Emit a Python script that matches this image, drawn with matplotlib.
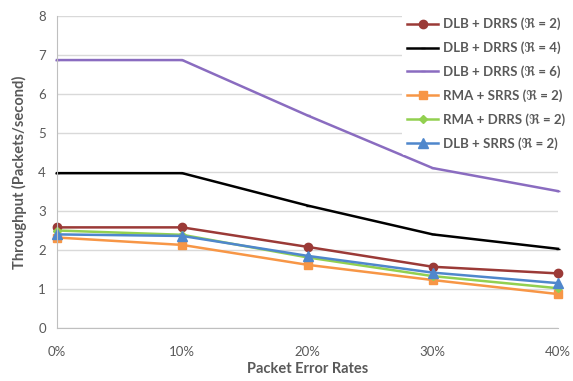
import matplotlib.pyplot as plt

error_rates = ['0%', '10%', '20%', '30%', '40%']

series_names = [
    'DLB + DRRS (\u211c = 2)',
    'DLB + DRRS (\u211c = 4)',
    'DLB + DRRS (\u211c = 6)',
    'RMA + SRRS (\u211c = 2)',
    'RMA + DRRS (\u211c = 2)',
    'DLB + SRRS (\u211c = 2)',
]

dlb_drrs_2 = [2.58, 2.58, 2.08, 1.57, 1.40]
dlb_drrs_4 = [3.97, 3.97, 3.14, 2.40, 2.03]
dlb_drrs_6 = [6.87, 6.87, 5.45, 4.10, 3.51]
rma_srrs_2 = [2.32, 2.13, 1.62, 1.23, 0.87]
rma_drrs_2 = [2.50, 2.39, 1.81, 1.33, 1.02]
dlb_srrs_2 = [2.40, 2.36, 1.85, 1.42, 1.15]

plt.rcParams['font.family'] = ['Lato', 'DejaVu Sans']
grey = '#595959'

fig = plt.figure(figsize=(5.73, 3.81), dpi=100)
ax = fig.add_axes([57 / 573, 1 - 328 / 381, (558 - 57) / 573, (328 - 16) / 381])

x = list(range(len(error_rates)))
styles = [
    (dlb_drrs_2, '#9B3A37', 'o', 6),
    (dlb_drrs_4, '#000000', '_', 3),
    (dlb_drrs_6, '#8A6CC0', '_', 3),
    (rma_srrs_2, '#F79646', 's', 6),
    (rma_drrs_2, '#92D050', 'D', 4),
    (dlb_srrs_2, '#4F87CC', '^', 7),
]
for (vals, col, mk, ms), name in zip(styles, series_names):
    ax.plot(x, vals, color=col, lw=1.8, marker=mk, ms=ms, label=name, clip_on=False)

ax.set_xlim(0, 4)
ax.set_ylim(0, 8)
ax.set_xticks(x)
ax.set_xticklabels(error_rates)
ax.set_yticks(range(9))
ax.grid(axis='y', color='#d9d9d9', lw=1)
ax.set_axisbelow(True)
for s in ['top', 'right']:
    ax.spines[s].set_visible(False)
for s in ['left', 'bottom']:
    ax.spines[s].set_color('#bfbfbf')
ax.tick_params(length=0, colors=grey, labelsize=9.5, pad=13)
ax.tick_params(axis='y', pad=8)

ax.set_xlabel('Packet Error Rates', fontsize=10.5, fontweight='bold', color=grey, labelpad=3)
ax.set_ylabel('Throughput (Packets/second)', fontsize=10.5, fontweight='bold', color=grey, labelpad=8)

leg = ax.legend(loc='upper right', bbox_to_anchor=(1.03, 1.02), frameon=True, fontsize=9.5,
                handlelength=2.3, handletextpad=0.4, labelspacing=0.85, borderaxespad=0.2)
leg.get_frame().set_edgecolor('none')
leg.get_frame().set_facecolor('white')
leg.get_frame().set_alpha(1)
for t in leg.get_texts():
    t.set_color(grey)
    t.set_fontweight('bold')

fig.savefig('out.png', dpi=100)
